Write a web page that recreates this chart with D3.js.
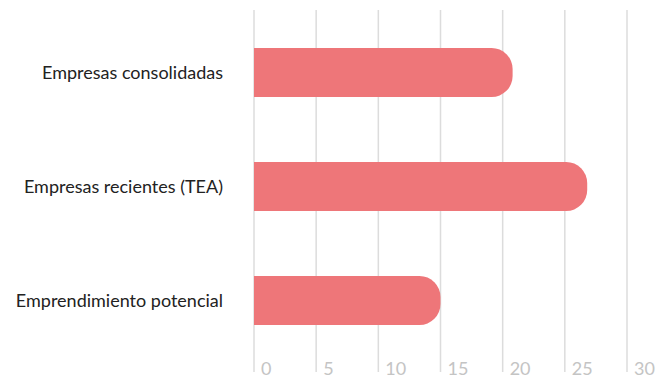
<!DOCTYPE html>
<html><head><meta charset="utf-8">
<script src="https://cdn.jsdelivr.net/npm/d3@7"></script>
<style>body{margin:0;background:#fff}svg{display:block}</style>
</head><body>
<svg id="c" width="662" height="380"></svg>
<script>
const categories = ["Empresas consolidadas", "Empresas recientes (TEA)", "Emprendimiento potencial"];
const values = [20.8, 26.8, 15.0];
const ticks = [0, 5, 10, 15, 20, 25, 30];

const svg = d3.select("#c");
const x = d3.scaleLinear().domain([0, 30]).range([254, 627]);
const y = d3.scaleBand().domain(categories).range([15.5, 357.5]).paddingInner(0.57).paddingOuter(0.285);

// gridlines
svg.append("g").selectAll("line").data(ticks).join("line")
  .attr("x1", d => x(d)).attr("x2", d => x(d))
  .attr("y1", 10).attr("y2", 372)
  .attr("stroke", "#dcdcdc").attr("stroke-width", 1.5);

// tick labels
svg.append("g").selectAll("text").data(ticks).join("text")
  .attr("x", d => x(d) + 7).attr("y", 375)
  .attr("font-family", "Lato, sans-serif").attr("font-size", 18)
  .attr("fill", "#c4c4c4").text(d => d);

// bars with rounded right end
const r = 21;
svg.append("g").selectAll("path").data(values).join("path")
  .attr("d", (d, i) => {
    const x0 = x(0), x1 = x(d), y0 = y(categories[i]), h = y.bandwidth();
    return `M${x0},${y0} H${x1 - r} A${r},${r} 0 0 1 ${x1},${y0 + r} V${y0 + h - r} A${r},${r} 0 0 1 ${x1 - r},${y0 + h} H${x0} Z`;
  })
  .attr("fill", "#ee7679");

// category labels
svg.append("g").selectAll("text").data(categories).join("text")
  .attr("x", 223).attr("y", d => y(d) + y.bandwidth() / 2)
  .attr("dy", "0.35em").attr("text-anchor", "end")
  .attr("font-family", "Lato, sans-serif").attr("font-size", 18)
  .attr("fill", "#222").text(d => d);
</script>
</body></html>
